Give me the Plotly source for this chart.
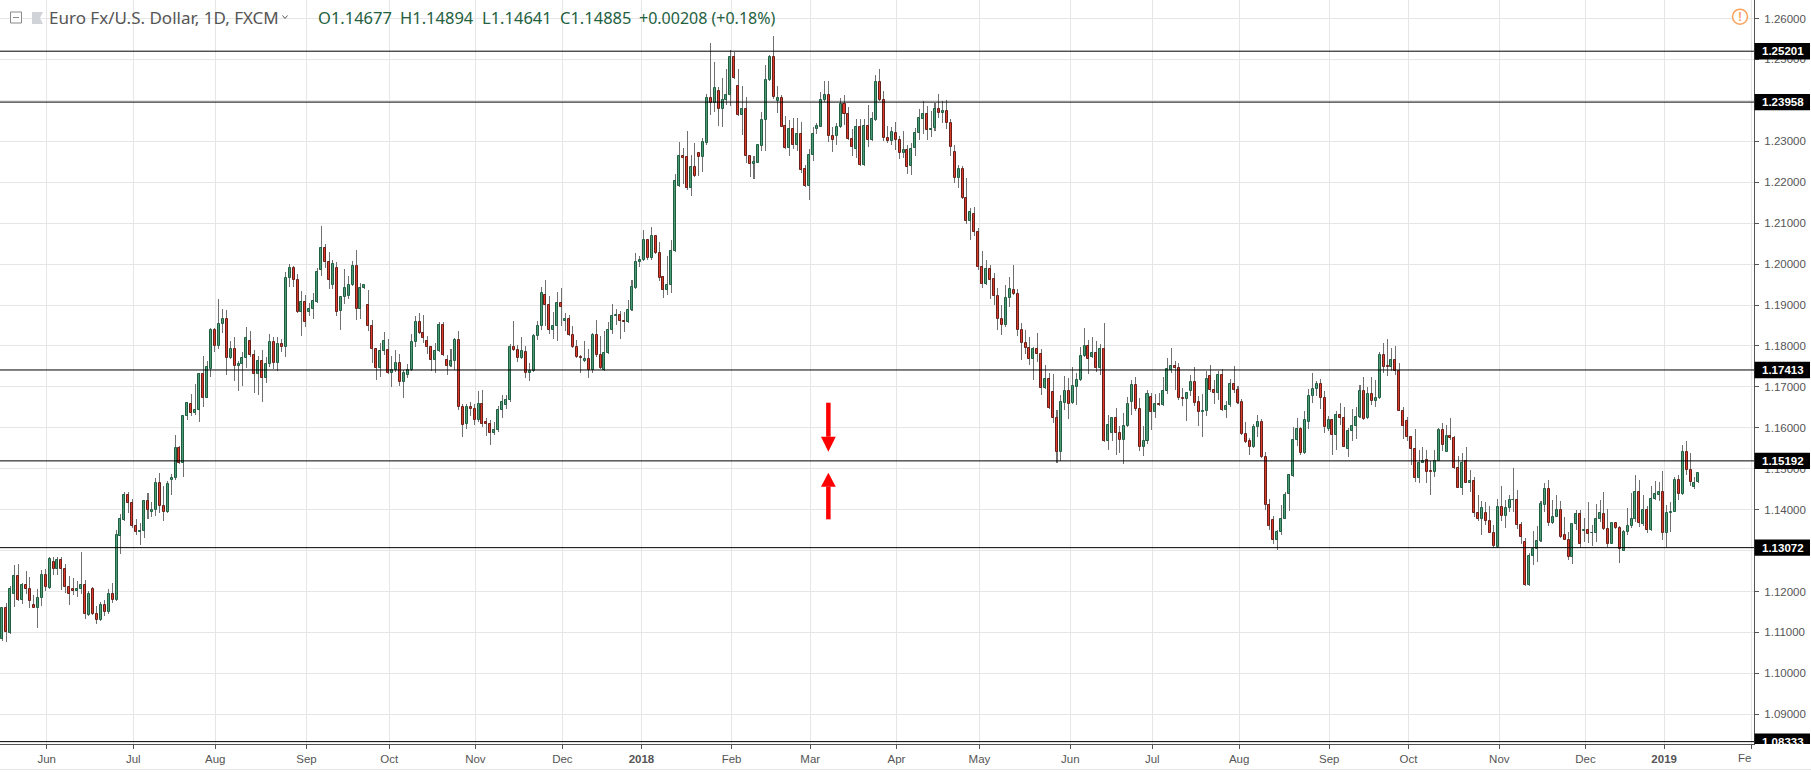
import plotly.graph_objects as go

# Daily EUR/USD candles, in 1/10000ths of a dollar
opens_pips = [
11083,11159,11098,11195,11237,11180,11217,11207,11168,11161,
11183,11241,11209,11271,11254,11276,11256,11212,11207,11202,
11207,11217,11143,11205,11146,11131,11168,11150,11193,11180,
11336,11375,11437,11417,11361,11346,11348,11422,11394,11398,
11466,11410,11394,11472,11478,11551,11514,11629,11659,11637,
11644,11732,11673,11744,11839,11799,11854,11866,11771,11793,
11751,11756,11771,11812,11778,11732,11763,11722,11756,11810,
11759,11805,11797,11965,11990,11960,11882,11908,11882,11890,
11908,11985,12040,12005,11950,11990,11885,11920,11921,11949,
11995,11890,11941,11900,11849,11793,11746,11788,11790,11734,
11741,11759,11711,11728,11741,11809,11859,11832,11812,11798,
11765,11787,11851,11766,11750,11763,11815,11651,11609,11651,
11646,11619,11659,11615,11610,11587,11594,11644,11655,11667,
11798,11790,11771,11785,11734,11739,11824,11849,11924,11900,
11838,11848,11905,11860,11866,11827,11798,11773,11763,11768,
11741,11827,11777,11741,11782,11839,11872,11876,11861,11858,
11887,11942,12005,12011,12059,12014,12068,12027,11968,11936,
11948,12032,12192,12263,12261,12185,12237,12271,12261,12297,
12407,12393,12424,12380,12402,12412,12507,12434,12365,12378,
12263,12245,12248,12289,12351,12449,12505,12399,12407,12337,
12283,12329,12292,12317,12232,12192,12266,12329,12336,12402,
12412,12312,12312,12334,12390,12366,12305,12281,12334,12242,
12338,12302,12351,12444,12402,12307,12300,12320,12302,12271,
12278,12239,12283,12320,12355,12366,12327,12332,12378,12368,
12373,12344,12273,12210,12232,12162,12105,12123,12079,11993,
11951,11988,11964,11923,11866,11851,11917,11937,11927,11840,
11808,11796,11768,11793,11781,11697,11720,11688,11625,11541,
11661,11691,11661,11700,11717,11775,11801,11773,11783,11746,
11793,11568,11588,11625,11588,11570,11605,11663,11705,11647,
11553,11568,11676,11639,11659,11656,11690,11742,11752,11747,
11674,11670,11690,11713,11662,11639,11641,11727,11693,11685,
11730,11644,11656,11708,11693,11662,11586,11569,11553,11601,
11613,11529,11411,11375,11325,11346,11378,11438,11482,11570,
11598,11538,11614,11677,11694,11707,11673,11598,11620,11582,
11632,11625,11548,11593,11604,11626,11690,11625,11683,11666,
11673,11778,11750,11748,11766,11739,11642,11617,11578,11548,
11478,11514,11521,11494,11492,11520,11595,11542,11581,11576,
11503,11454,11518,11465,11471,11393,11376,11393,11373,11343,
11309,11407,11385,11404,11423,11424,11363,11320,11216,11288,
11305,11324,11411,11451,11368,11382,11400,11339,11327,11285,
11366,11390,11349,11351,11342,11343,11376,11390,11354,11317,
11368,11356,11300,11346,11359,11376,11444,11365,11398,11351,
11427,11436,11444,11342,11393,11395,11473,11439,11542,11498,11456,11467.7]
closes_pips = [
11159,11100,11207,11237,11180,11217,11207,11178,11161,11183,
11241,11210,11280,11254,11276,11256,11211,11195,11202,11207,
11217,11144,11195,11146,11131,11168,11150,11193,11180,11337,
11376,11437,11417,11361,11346,11349,11422,11400,11398,11466,
11410,11394,11463,11478,11551,11514,11629,11661,11637,11644,
11732,11673,11749,11839,11799,11854,11866,11771,11793,11751,
11756,11771,11820,11778,11732,11763,11722,11756,11810,11759,
11805,11797,11965,11990,11960,11882,11908,11858,11890,11911,
11980,12040,12005,11960,12000,11882,11920,11941,11949,11995,
11890,11941,11949,11848,11793,11746,11788,11812,11734,11741,
11759,11711,11734,11741,11810,11859,11831,11819,11798,11765,
11788,11851,11777,11750,11763,11815,11650,11607,11651,11646,
11619,11659,11609,11609,11587,11595,11644,11663,11668,11798,
11789,11771,11788,11734,11739,11824,11849,11929,11900,11838,
11849,11905,11895,11866,11827,11798,11773,11771,11768,11741,
11827,11777,11746,11783,11839,11873,11876,11860,11858,11888,
11944,12005,12011,12059,12014,12068,12026,11967,11936,11949,
12032,12202,12263,12260,12185,12237,12215,12261,12298,12407,
12393,12429,12380,12402,12412,12507,12455,12365,12378,12263,
12245,12249,12290,12351,12449,12505,12409,12407,12336,12283,
12329,12292,12317,12231,12192,12266,12317,12337,12402,12412,
12312,12302,12334,12390,12366,12305,12287,12334,12242,12338,
12302,12354,12444,12402,12307,12300,12322,12302,12271,12278,
12238,12281,12320,12356,12366,12327,12329,12378,12368,12373,
12344,12285,12210,12232,12161,12105,12127,12078,11992,11951,
11988,11961,11922,11866,11851,11918,11940,11927,11839,11807,
11795,11768,11793,11780,11697,11720,11649,11624,11541,11662,
11691,11659,11701,11718,11776,11801,11769,11783,11746,11793,
11568,11608,11625,11588,11570,11605,11657,11705,11647,11553,
11569,11683,11639,11659,11656,11691,11744,11752,11746,11673,
11670,11686,11713,11661,11639,11641,11720,11692,11685,11730,
11644,11654,11708,11692,11661,11585,11566,11553,11601,11613,
11529,11411,11360,11325,11346,11378,11437,11484,11571,11598,
11538,11620,11678,11695,11707,11673,11602,11620,11582,11632,
11624,11554,11593,11605,11627,11690,11622,11683,11666,11673,
11778,11749,11748,11766,11739,11642,11604,11577,11548,11478,
11515,11519,11492,11492,11519,11595,11558,11581,11575,11502,
11454,11515,11465,11470,11392,11376,11405,11373,11343,11311,
11407,11385,11405,11424,11424,11363,11333,11216,11288,11305,
11324,11415,11451,11368,11383,11400,11333,11327,11285,11366,
11390,11317,11351,11341,11344,11376,11393,11353,11317,11368,
11355,11303,11346,11359,11376,11444,11368,11398,11351,11427,
11439,11444,11342,11393,11395,11473,11439,11542,11498,11468,11466,11488.5]
highs_pips = [
11161,11172,11213,11264,11268,11220,11250,11235,11191,11206,
11252,11256,11285,11284,11284,11284,11268,11237,11232,11225,
11296,11228,11201,11211,11164,11175,11179,11207,11220,11350,
11390,11444,11444,11427,11376,11368,11424,11441,11418,11478,
11489,11457,11471,11486,11583,11556,11630,11662,11683,11707,
11733,11776,11763,11843,11844,11915,11890,11888,11813,11823,
11764,11785,11847,11837,11790,11776,11789,11774,11828,11823,
11823,11818,11980,12000,11995,11975,11935,11925,11905,11930,
11990,12092,12050,12030,12010,12005,11923,11988,11972,12008,
12035,11954,11950,11937,11864,11795,11806,11835,11817,11776,
11789,11781,11742,11757,11828,11872,11881,11876,11824,11801,
11807,11859,11859,11777,11793,11820,11837,11659,11659,11663,
11657,11689,11693,11624,11618,11614,11654,11679,11679,11805,
11862,11803,11823,11799,11759,11828,11860,11945,11962,11923,
11884,11932,11942,11881,11876,11849,11815,11779,11813,11793,
11832,11864,11824,11836,11859,11903,11891,11885,11882,11913,
11962,12028,12019,12084,12062,12090,12071,12054,11972,12020,
12059,12220,12298,12284,12325,12266,12296,12274,12308,12415,
12539,12493,12433,12454,12476,12523,12519,12476,12435,12408,
12264,12264,12293,12371,12486,12511,12557,12435,12412,12361,
12352,12356,12356,12347,12242,12281,12336,12344,12420,12447,
12447,12334,12344,12407,12413,12383,12329,12354,12354,12354,
12389,12372,12461,12476,12422,12337,12334,12346,12312,12325,
12290,12295,12332,12378,12398,12386,12374,12394,12415,12398,
12400,12354,12291,12242,12240,12210,12136,12140,12087,12033,
12011,11997,11979,11942,11899,11948,11969,11999,11940,11857,
11840,11823,11798,11832,11792,11753,11735,11731,11643,11679,
11726,11721,11748,11735,11798,11843,11814,11823,11811,11804,
11855,11631,11625,11648,11605,11635,11676,11716,11723,11674,
11605,11693,11684,11682,11684,11723,11770,11794,11764,11759,
11698,11688,11728,11748,11678,11682,11740,11753,11718,11740,
11744,11666,11720,11750,11702,11670,11613,11576,11610,11631,
11621,11540,11425,11385,11350,11411,11443,11486,11603,11625,
11602,11642,11695,11734,11714,11720,11691,11630,11622,11642,
11661,11651,11600,11646,11651,11704,11723,11700,11725,11716,
11786,11806,11818,11794,11801,11759,11651,11627,11580,11596,
11546,11552,11546,11519,11547,11600,11612,11608,11623,11580,
11531,11539,11552,11497,11479,11435,11421,11419,11409,11362,
11427,11457,11424,11437,11501,11447,11369,11330,11293,11347,
11361,11420,11464,11472,11424,11435,11420,11383,11345,11366,
11400,11400,11379,11418,11362,11413,11423,11442,11401,11370,
11370,11361,11351,11403,11440,11485,11473,11437,11410,11458,
11471,11467,11495,11411,11418,11480,11484,11557,11569,11539,11480,11489.4]
lows_pips = [
11080,11077,11096,11163,11176,11169,11193,11161,11160,11111,
11165,11201,11207,11241,11241,11203,11197,11167,11191,11187,
11195,11133,11141,11142,11121,11128,11141,11145,11172,11178,
11292,11372,11392,11355,11337,11313,11331,11378,11382,11384,
11392,11372,11393,11435,11472,11511,11480,11618,11630,11632,
11614,11650,11673,11724,11785,11793,11831,11728,11768,11715,
11689,11703,11746,11772,11685,11681,11663,11709,11748,11744,
11739,11785,11772,11945,11945,11880,11824,11847,11872,11867,
11905,11970,11990,11940,11940,11873,11840,11903,11915,11947,
11863,11867,11939,11836,11759,11718,11724,11777,11732,11699,
11736,11702,11672,11721,11739,11797,11828,11807,11781,11738,
11733,11785,11775,11728,11749,11741,11643,11577,11598,11628,
11608,11614,11602,11581,11558,11582,11590,11625,11645,11664,
11787,11760,11767,11722,11715,11737,11815,11838,11848,11828,
11817,11811,11848,11836,11825,11795,11771,11733,11761,11721,
11733,11772,11744,11739,11780,11830,11850,11818,11833,11856,
11885,11939,11994,12008,12011,12011,12024,11958,11918,11925,
11929,12030,12189,12196,12180,12167,12213,12215,12226,12291,
12364,12372,12338,12335,12389,12386,12453,12363,12316,12248,
12213,12207,12246,12277,12277,12447,12404,12370,12334,12281,
12263,12280,12277,12222,12188,12157,12253,12317,12334,12397,
12299,12275,12291,12332,12341,12302,12263,12260,12240,12240,
12287,12300,12349,12399,12301,12297,12290,12279,12256,12259,
12221,12218,12263,12303,12318,12302,12311,12324,12356,12344,
12330,12263,12199,12186,12159,12099,12058,12068,11985,11941,
11949,11914,11899,11840,11826,11846,11894,11925,11824,11766,
11781,11753,11718,11761,11679,11694,11647,11611,11514,11519,
11643,11621,11659,11656,11714,11773,11731,11771,11736,11729,
11566,11546,11568,11534,11538,11511,11603,11631,11641,11544,
11531,11560,11594,11623,11654,11653,11682,11735,11692,11667,
11653,11616,11678,11653,11605,11577,11629,11687,11657,11668,
11642,11624,11651,11685,11659,11583,11562,11534,11551,11577,
11527,11400,11350,11315,11301,11338,11377,11397,11480,11555,
11533,11536,11596,11660,11677,11645,11588,11592,11533,11546,
11608,11552,11529,11568,11572,11625,11620,11622,11655,11652,
11671,11734,11726,11738,11729,11640,11572,11567,11508,11468,
11465,11513,11466,11435,11481,11518,11543,11540,11571,11499,
11452,11435,11464,11443,11383,11373,11338,11363,11342,11307,
11307,11372,11355,11394,11394,11353,11316,11214,11214,11264,
11272,11322,11395,11360,11366,11381,11331,11325,11277,11268,
11350,11307,11321,11318,11311,11321,11370,11351,11309,11315,
11354,11270,11298,11337,11356,11370,11358,11359,11343,11349,
11423,11420,11327,11309,11346,11394,11424,11437,11484,11457,11450,11464.1]

assert len(opens_pips) == len(closes_pips) == len(highs_pips) == len(lows_pips) == 432

month_positions = [11.26, 33.27, 54.1, 77.28, 98.3, 120.2, 142.3, 162.4, 185.3, 205.3, 227.2,
                   248.3, 271.4, 292.2, 314.3, 337.2, 357.3, 380.4, 402.3, 422.3, 444.5]
month_labels = ["Jun", "Jul", "Aug", "Sep", "Oct", "Nov", "Dec", "<b>2018</b>", "Feb", "Mar", "Apr",
                "May", "Jun", "Jul", "Aug", "Sep", "Oct", "Nov", "Dec", "<b>2019</b>", ""]
price_ticks = [1.09, 1.10, 1.11, 1.12, 1.13, 1.14, 1.15, 1.16, 1.17, 1.18, 1.19,
               1.20, 1.21, 1.22, 1.23, 1.24, 1.25, 1.26]
price_tick_labels = ["%.5f" % p for p in price_ticks]
levels = [1.25201, 1.23958, 1.17413, 1.15192, 1.13072, 1.08333]

# Red arrows: bar position, tail price, head-base price, tip price
arrow_bar = 209.9
arrow_half_width = 1.88
arrow_down = (1.16613, 1.15782, 1.15416)
arrow_up = (1.13764, 1.14561, 1.14903)

WIDTH, HEIGHT = 1811, 772
PLOT_W, PLOT_H = 1754, 744
X_RANGE = [-0.61, 445.13]
Y_RANGE = [1.08275, 1.26452]

AXIS = "#555555"
GRID = "#e6e6e6"
UP_FILL, UP_LINE = "#4c9a79", "#1f5f40"
DOWN_FILL, DOWN_LINE = "#e0392a", "#66201a"
WICK = "rgba(110,110,110,0.99)"   # just under opaque, so thin bars round to 1 px
LEGEND_GREEN = "#24613f"
LEGEND_GREY = "#555555"
ORANGE = "#f9a35f"

opens = [v / 10000 for v in opens_pips]
closes = [v / 10000 for v in closes_pips]
highs = [v / 10000 for v in highs_pips]
lows = [v / 10000 for v in lows_pips]
bars = list(range(len(opens)))


def px(x):
    return x / PLOT_W


def py(y):
    return 1 - y / PLOT_H


fig = go.Figure()
fig.add_trace(go.Bar(
    x=bars, base=lows, y=[h - l for h, l in zip(highs, lows)], width=0.26,
    marker=dict(color=WICK, line=dict(width=0)), hoverinfo="skip", showlegend=False))
fig.add_trace(go.Bar(
    x=bars, base=[min(o, c) for o, c in zip(opens, closes)],
    y=[abs(c - o) for o, c in zip(opens, closes)], width=0.51,
    marker=dict(
        color=[UP_FILL if c >= o else DOWN_FILL for o, c in zip(opens, closes)],
        line=dict(width=1, color=[UP_LINE if c >= o else DOWN_LINE for o, c in zip(opens, closes)])),
    hoverinfo="skip", showlegend=False))

shapes = []
annotations = []

# horizontal levels and price tags
for lv in levels:
    shapes.append(dict(type="line", xref="paper", yref="y", x0=0, x1=1, y0=lv, y1=lv,
                       line=dict(color="black", width=1), layer="above"))
    shapes.append(dict(type="rect", xref="paper", yref="y", x0=px(1754.5), x1=px(1810),
                       y0=lv - 0.002, y1=lv + 0.002, fillcolor="black", line=dict(width=0), layer="above"))
    annotations.append(dict(text="<b>%.5f</b>" % lv, xref="paper", yref="y", x=px(1783), y=lv,
                            showarrow=False, xanchor="center", yanchor="middle",
                            font=dict(family="Liberation Sans", size=11.5, color="white")))

# cover the part of the lowest tag's text that falls under the time axis
annotations.append(dict(text=" ", xref="paper", yref="paper", x=px(1755), y=py(744.5), showarrow=False,
                        xanchor="left", yanchor="top", width=56, height=8, bgcolor="white", borderpad=0,
                        font=dict(size=6)))

# arrows
for (tail, base, tip) in (arrow_down, arrow_up):
    shapes.append(dict(type="line", xref="x", yref="y", x0=arrow_bar, x1=arrow_bar, y0=tail, y1=base,
                       line=dict(color="#ff0000", width=4.5), layer="above"))
    shapes.append(dict(type="path", xref="x", yref="y",
                       path="M %f %f L %f %f L %f %f Z" % (arrow_bar - arrow_half_width, base,
                                                           arrow_bar + arrow_half_width, base, arrow_bar, tip),
                       fillcolor="#ff0000", line=dict(width=0), layer="above"))

# header icons
shapes += [
    dict(type="rect", xref="paper", yref="paper", x0=px(10.5), x1=px(21.5), y0=py(23), y1=py(12),
         line=dict(color="#8a8a8a", width=1), fillcolor="white", layer="above"),
    dict(type="line", xref="paper", yref="paper", x0=px(13), x1=px(19), y0=py(17.5), y1=py(17.5),
         line=dict(color="#8a8a8a", width=1), layer="above"),
    dict(type="path", xref="paper", yref="paper",
         path="M %f %f L %f %f L %f %f L %f %f L %f %f Z" % (px(32), py(12), px(43), py(12), px(40), py(18),
                                                              px(43), py(24), px(32), py(24)),
         fillcolor="#d0d3d8", line=dict(width=0), layer="above"),
    dict(type="path", xref="paper", yref="paper",
         path="M %f %f L %f %f L %f %f" % (px(282.5), py(15.5), px(285), py(18.5), px(287.5), py(15.5)),
         line=dict(color=LEGEND_GREY, width=1), layer="above"),
    dict(type="circle", xref="paper", yref="paper", x0=px(1732.5), x1=px(1747.5), y0=py(24.2), y1=py(9.2),
         line=dict(color=ORANGE, width=1.5), fillcolor="white", layer="above"),
    dict(type="line", xref="paper", yref="paper", x0=0, x1=WIDTH / PLOT_W, y0=py(769.5), y1=py(769.5),
         line=dict(color="#e6e6e6", width=1)),
]

HEADER_FONT = "Noto Sans"
for text, x, color, size in [
    ("Euro Fx/U.S. Dollar, 1D, FXCM", 48, LEGEND_GREY, 17),
    ("O1.14677", 317, LEGEND_GREEN, 16.5),
    ("H1.14894", 399, LEGEND_GREEN, 16.5),
    ("L1.14641", 481, LEGEND_GREEN, 16.5),
    ("C1.14885", 559, LEGEND_GREEN, 16.5),
    ("+0.00208 (+0.18%)", 638, LEGEND_GREEN, 16),
]:
    annotations.append(dict(text=text, xref="paper", yref="paper", x=px(x), y=py(17.5), showarrow=False,
                            xanchor="left", yanchor="middle", borderpad=0,
                            font=dict(family=HEADER_FONT, size=size, color=color)))

annotations.append(dict(text="<b>!</b>", xref="paper", yref="paper", x=px(1740), y=py(16.7), showarrow=False,
                        xanchor="center", yanchor="middle",
                        font=dict(family="Liberation Sans", size=12, color=ORANGE)))
annotations.append(dict(text="Fe", xref="paper", yref="paper", x=px(1752), y=py(758), showarrow=False,
                        xanchor="right", yanchor="middle", borderpad=0,
                        font=dict(family="Liberation Sans", size=11.5, color=AXIS)))

fig.update_layout(
    width=WIDTH, height=HEIGHT, autosize=False,
    margin=dict(l=0, r=WIDTH - PLOT_W, t=0, b=HEIGHT - PLOT_H, pad=0, autoexpand=False),
    paper_bgcolor="white", plot_bgcolor="white", barmode="overlay", bargap=0,
    showlegend=False, shapes=shapes, annotations=annotations,
    font=dict(family="Liberation Sans", size=11.5, color=AXIS),
    xaxis=dict(range=X_RANGE, tickmode="array", tickvals=month_positions, ticktext=month_labels,
               showgrid=True, gridcolor=GRID, gridwidth=1, zeroline=False,
               showline=True, linecolor=AXIS, linewidth=1, ticks="outside", ticklen=4, tickcolor=AXIS,
               tickangle=0, tickfont=dict(family="Liberation Sans", size=11.5, color=AXIS), fixedrange=True),
    yaxis=dict(range=Y_RANGE, side="right", tickmode="array", tickvals=price_ticks, ticktext=price_tick_labels,
               showgrid=True, gridcolor=GRID, gridwidth=1, zeroline=False,
               showline=True, linecolor=AXIS, linewidth=1, ticks="outside", ticklen=4, tickcolor=AXIS,
               ticklabelstandoff=3,
               tickfont=dict(family="Liberation Sans", size=11.5, color=AXIS), fixedrange=True),
)

fig.write_html("out.html", config=dict(displayModeBar=False),
               post_script="document.body.style.margin='0';")
